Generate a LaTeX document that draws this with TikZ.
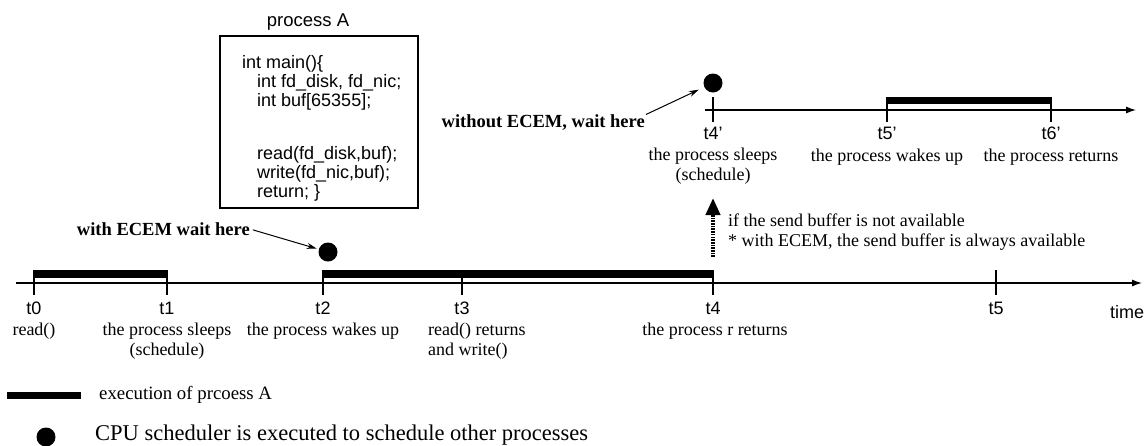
\documentclass[tikz,border=0pt]{standalone}
\usepackage{fontspec}
\setmainfont{Liberation Serif}
\newfontfamily\hv{Liberation Sans}
\usetikzlibrary{arrows.meta}
\tikzset{
  axisline/.style={line width=1.2pt, -{Latex[length=10pt,width=7pt]}},
  tickmark/.style={line width=1.2pt},
  cpudot/.style={circle, fill=black, inner sep=0pt, minimum size=19pt},
  tlab/.style={font=\hv\fontsize{18}{20}\selectfont, inner sep=0pt},
  desc/.style={font=\fontsize{18}{20}\selectfont, align=center, inner sep=0pt},
  note/.style={font=\bfseries\fontsize{18.5}{20}\selectfont, inner sep=0pt},
  codeline/.style={font=\hv\fontsize{18}{19}\selectfont, anchor=base west, inner sep=0pt},
  ptr/.style={line width=1pt, -{Stealth[length=10pt,width=6pt]}},
  dasharrow/.style={line width=4pt, dash pattern=on 1.6pt off 1.1pt, -{Triangle[width=14pt,length=17pt]}},
}
\begin{document}
\begin{tikzpicture}[x=1pt,y=-1pt]
\useasboundingbox (0,0) rectangle (1144,445);
\fill[white] (0,0) rectangle (1144,445);

% ---------- process A box ----------
\node[font=\hv\fontsize{18.5}{20}\selectfont, inner sep=0pt] (ptitle) at (308,22) {process A};
\node[draw, line width=1.1pt, minimum width=198pt, minimum height=172pt, inner sep=0pt] (box) at (319,122) {};
\node[codeline] (c1) at (242,68) {int main()\{};
\node[codeline] (c2) at (257,87) {int fd\_disk, fd\_nic;};
\node[codeline] (c3) at (257,106) {int buf[65355];};
\node[codeline] (c4) at (257,159) {read(fd\_disk,buf);};
\node[codeline] (c5) at (257,178) {write(fd\_nic,buf);};
\node[codeline] (c6) at (257,197) {return; \}};

% ---------- main time axis ----------
\coordinate (ax0) at (16,283);
\coordinate (ax1) at (1142,283);
\draw[axisline] (ax0) -- (ax1);

% execution bars
\fill (34,270) rectangle (167,278);
\fill (323,270) rectangle (713,278);

% ticks
\foreach \n/\x in {0/34,1/167,2/323,3/462,4/713,5/996}{
  \coordinate (tt\n) at (\x,270);
  \coordinate (tb\n) at (\x,295);
  \draw[tickmark] (tt\n) -- (tb\n);
}

% tick labels
\node[tlab] (l0) at (34,308) {t0};
\node[tlab] (l1) at (167,308) {t1};
\node[tlab] (l2) at (323,308) {t2};
\node[tlab] (l3) at (462,308) {t3};
\node[tlab] (l4) at (713,308) {t4};
\node[tlab] (l5) at (996,308) {t5};
\node[tlab] (ltime) at (1127,312) {time};

\node[desc] (d0) at (34,331) {read()};
\node[desc] (d1) at (167,341) {the process sleeps\\(schedule)};
\node[desc] (d2) at (323,331) {the process wakes up};
\node[desc, align=left, anchor=west] (d3) at (428,341) {read() returns\\and write()};
\node[desc] (d4) at (715,331) {the process r returns};

% dot at t2 and note
\node[cpudot] (dot2) at (328,252) {};
\node[note, anchor=east] (w1) at (250,229) {with ECEM wait here};
\draw[ptr, shorten <=3pt, shorten >=2pt] (w1.east) -- (dot2);

% dashed arrow and condition
\coordinate (da0) at (713,257);
\coordinate (da1) at (713,198);
\draw[dasharrow] (da0) -- (da1);
\node[desc, align=left, anchor=west] (cond) at (728,232.5) {if the send buffer is not available\\* with ECEM, the send buffer is always available};

% ---------- upper time axis ----------
\coordinate (ux0) at (705,110);
\coordinate (ux1) at (1136,110);
\draw[axisline] (ux0) -- (ux1);
\fill (887,97) rectangle (1051,104);
\foreach \n/\x in {4/713,5/887,6/1051}{
  \coordinate (ut\n) at (\x,97);
  \coordinate (ub\n) at (\x,122);
  \draw[tickmark] (ut\n) -- (ub\n);
}
\node[tlab] (u4) at (713,133) {t4’};
\node[tlab] (u5) at (887,133) {t5’};
\node[tlab] (u6) at (1051,133) {t6’};
\node[desc] (e4) at (713,166) {the process sleeps\\(schedule)};
\node[desc] (e5) at (887,157) {the process wakes up};
\node[desc] (e6) at (1051,157) {the process returns};

\node[cpudot] (dot4) at (713,83) {};
\node[note, anchor=east] (w2) at (645,123) {without ECEM, wait here};
\draw[ptr, shorten <=1pt, shorten >=6pt] (w2.north east) -- (dot4);

% ---------- legend ----------
\fill (7,392) rectangle (81,399);
\node[anchor=west, inner sep=0pt, font=\fontsize{18.8}{20}\selectfont] (leg1) at (99,395) {execution of prcoess A};
\node[cpudot] (legdot) at (46,437) {};
\node[anchor=west, inner sep=0pt, font=\fontsize{22.5}{24}\selectfont] (leg2) at (95,435.5) {CPU scheduler is executed to schedule other processes};
\end{tikzpicture}
\end{document}
